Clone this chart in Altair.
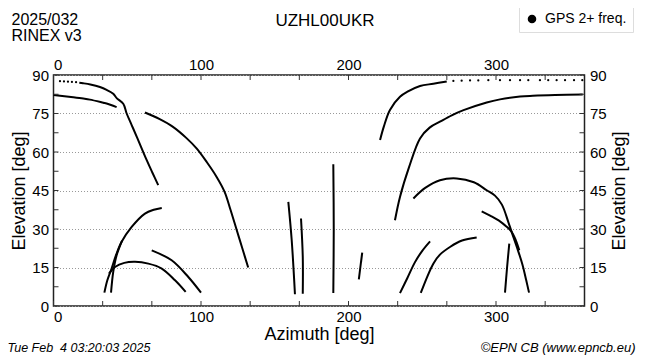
import altair as alt
import pandas as pd

FONT = "Liberation Sans"

# ---- satellite tracks: (azimuth deg, elevation deg) ----
TRACK_01 = [(17.5, 87.0), (20, 86.8), (25, 86.3), (31.5, 85.3), (36, 84.2), (40.5, 82.7),
            (43, 80.9), (47.3, 78.8), (49.6, 75), (53, 70.5), (56.4, 66), (63.2, 56.8),
            (67, 52), (71, 47.1)]
TRACK_01_SPARSE = [(4.4, 87.6), (7.1, 87.5), (9.8, 87.4), (12.5, 87.3), (15.3, 87.2)]
TRACK_02 = [(0, 82.2), (13.4, 81.3), (20.2, 80.8), (24.7, 80.4), (33.8, 79.2), (36, 78.9),
            (42.8, 77.5)]
TRACK_03 = [(62, 75.4), (72, 72.8), (81, 69.8), (90, 65.5), (97, 61.4), (104, 56),
            (110.6, 50.3), (116, 44.5), (120, 37.5), (124, 30), (128, 22.5), (132, 15)]
TRACK_04 = [(34.5, 5.2), (36.5, 10), (39.4, 14.6), (42.5, 20), (46.2, 25), (53, 30.8),
            (62, 36), (68, 37.5), (73.4, 38.2)]
TRACK_05 = [(39, 5.2), (40.5, 13.3), (42.8, 19.8), (46.5, 25.5)]
TRACK_06 = [(37.6, 12.6), (41.7, 15.2), (48, 16.8), (55.3, 17.2), (64.3, 16.5),
            (73.4, 14.6), (82.4, 10), (89.6, 5.5)]
TRACK_07 = [(66.6, 21.7), (80.1, 17.8), (91.4, 11.3), (100, 5.2)]
TRACK_08 = [(159.2, 40.6), (161.5, 25.6), (163.7, 4.6)]
TRACK_09 = [(167.8, 34.1), (169, 19.1), (169, 4.8)]
TRACK_10 = [(189.7, 55.2), (190, 30), (189.7, 5.1)]
TRACK_11 = [(209.3, 20.8), (207, 10.4)]
TRACK_12 = [(231.5, 33.4), (234.9, 42.5), (241, 54), (248.5, 65.3), (255, 69.5),
            (262, 71.8), (270, 74.3), (278, 76.3), (293.7, 79.3), (302.7, 80.5),
            (316.3, 81.6), (325, 81.9), (340, 82.2), (358.8, 82.4)]
TRACK_13 = [(221.4, 64.7), (224, 70), (228.1, 76.4), (234.9, 81.5), (240, 83.5),
            (248.5, 85.7), (257.5, 86.6), (266.6, 87.5)]
TRACK_13_SPARSE = [(271.1, 87.7), (276.7, 87.8), (282.4, 87.9), (288, 87.9), (294.8, 88),
                   (302.7, 88), (309.5, 88), (316.3, 88), (321.9, 88), (329.8, 88),
                   (335.4, 88), (341.1, 88), (346.8, 88), (352.9, 88), (358.5, 88)]
TRACK_14 = [(244, 41.9), (252, 46), (262, 49), (273.4, 49.7), (285, 48.2), (293.7, 45.1),
            (299.3, 43), (304, 39.5), (308.3, 32.8), (312, 26.5), (315, 21.5), (318, 16),
            (320.5, 10), (322.4, 5.2)]
TRACK_15 = [(290.3, 36.9), (296, 35.2), (302.7, 33), (307, 31), (310.6, 28.9),
            (313.5, 25.5), (315.8, 21.7)]
TRACK_16 = [(309, 24.3), (307.5, 15), (306.1, 5.2)]
TRACK_17 = [(234.9, 5.0), (240, 11), (245, 17), (250, 21.5), (255.3, 25.2)]
TRACK_18 = [(249, 5.1), (257.5, 16.5), (262, 20), (268.8, 23), (277, 25.5), (286.9, 26.7)]

SYSTEM = "GPS 2+ freq."
X_LABELS = [0, 100, 200, 300]
Y_LABELS = [0, 15, 30, 45, 60, 75, 90]
X_TICKS = [0, 33.33, 66.67, 100, 133.33, 166.67, 200, 233.33, 266.67, 300, 333.33]
Y_TICKS = [0, 7.5, 15, 22.5, 30, 37.5, 45, 52.5, 60, 67.5, 75, 82.5, 90]

TITLE = "UZHL00UKR"
TOP_LEFT = ["2025/032", "RINEX v3"]
FOOT_LEFT = "Tue Feb \u00a04 03:20:03 2025"
FOOT_RIGHT = "\u00a9EPN CB (www.epncb.eu)"

W, H = 531, 231

lines = [TRACK_01, TRACK_02, TRACK_03, TRACK_04, TRACK_05, TRACK_06, TRACK_07, TRACK_08,
         TRACK_09, TRACK_10, TRACK_11, TRACK_12, TRACK_13, TRACK_14, TRACK_15, TRACK_16,
         TRACK_17, TRACK_18]
rows = []
for k, tr in enumerate(lines):
    for i, (a, e) in enumerate(tr):
        rows.append({"track": k, "i": i, "az": a, "el": e, "sys": SYSTEM})
line_df = pd.DataFrame(rows)
dot_df = pd.DataFrame([{"az": a, "el": e, "sys": SYSTEM}
                       for a, e in TRACK_01_SPARSE + TRACK_13_SPARSE])

xs = alt.Scale(domain=[0, 360], nice=False, zero=False)
ys = alt.Scale(domain=[0, 90], nice=False, zero=False)

color = alt.Color("sys:N", scale=alt.Scale(range=["black"]),
                  legend=alt.Legend(title=None, orient="none", legendX=465.5, legendY=-69,
                                    strokeColor="#dddddd", fillColor="white", padding=6,
                                    symbolType="circle", symbolSize=50,
                                    symbolFillColor="black", symbolStrokeColor="black",
                                    labelFontSize=14, labelFont=FONT, labelColor="black",
                                    labelOffset=6))

track_layer = alt.Chart(line_df).mark_line(
    strokeWidth=2, interpolate="catmull-rom", color="black").encode(
    x=alt.X("az:Q", scale=xs,
            axis=alt.Axis(orient="bottom", values=X_LABELS, title="Azimuth [deg]",
                          ticks=False, domain=False, grid=False, labelPadding=3,
                          titlePadding=1, format="d")),
    y=alt.Y("el:Q", scale=ys,
            axis=alt.Axis(orient="left", values=Y_LABELS, title="Elevation [deg]",
                          ticks=False, domain=False, grid=True, gridDash=[1, 2],
                          gridColor="#999999", gridWidth=1, labelPadding=5,
                          titlePadding=3, format="d")),
    detail="track:N", order="i:Q", color=color)

dot_layer = alt.Chart(dot_df).mark_circle(size=5, opacity=1).encode(
    x=alt.X("az:Q", scale=xs,
            axis=alt.Axis(orient="top", values=X_LABELS, title=None, ticks=False,
                          domain=False, grid=False, labelPadding=3, format="d")),
    y=alt.Y("el:Q", scale=ys,
            axis=alt.Axis(orient="right", values=Y_LABELS, title="Elevation [deg]",
                          titleAngle=270, titleBaseline="top", ticks=False, domain=False,
                          grid=False, labelPadding=5, titlePadding=4, format="d")),
    color=color)

xt = pd.DataFrame({"v": X_TICKS})
yt = pd.DataFrame({"v": Y_TICKS})
tick_style = dict(color="#333333", strokeWidth=1)
ticks = [
    alt.Chart(yt).mark_rule(**tick_style).encode(
        y=alt.Y("v:Q", scale=ys, axis=None), x=alt.value(0), x2=alt.value(5)),
    alt.Chart(yt).mark_rule(**tick_style).encode(
        y=alt.Y("v:Q", scale=ys, axis=None), x=alt.value(W - 5), x2=alt.value(W)),
    alt.Chart(xt).mark_rule(**tick_style).encode(
        x=alt.X("v:Q", scale=xs, axis=None), y=alt.value(H - 5), y2=alt.value(H)),
    alt.Chart(xt).mark_rule(**tick_style).encode(
        x=alt.X("v:Q", scale=xs, axis=None), y=alt.value(0), y2=alt.value(5)),
]


def label(txt, x, y, size, align="left", style="normal"):
    return alt.Chart(pd.DataFrame({"t": [txt]})).mark_text(
        align=align, baseline="alphabetic", fontSize=size, font=FONT, fontStyle=style,
        color="black").encode(x=alt.value(x), y=alt.value(y), text="t:N")


texts = [
    label(TITLE, 271.5, -49, 17, align="center"),
    label(TOP_LEFT[0], -42, -50, 16),
    label(TOP_LEFT[1], -42, -34, 16),
    label(FOOT_LEFT, -46, 277, 12.5, style="italic"),
    label(FOOT_RIGHT, 582, 277, 13, align="right", style="italic"),
]

chart = alt.layer(track_layer, dot_layer, *ticks, *texts).resolve_axis(
    x="independent", y="independent").properties(
    width=W, height=H,
    autosize=alt.AutoSizeParams(type="none"),
    padding={"left": 45.5, "top": 67, "right": 57.5, "bottom": 50},
).configure_view(stroke="#222222", strokeWidth=1.5).configure_axis(
    labelFont=FONT, titleFont=FONT, labelFontSize=15, titleFontSize=18,
    labelColor="black", titleColor="black", titleFontWeight="normal")

chart.save("out.html", embed_options={"renderer": "svg", "actions": False})
